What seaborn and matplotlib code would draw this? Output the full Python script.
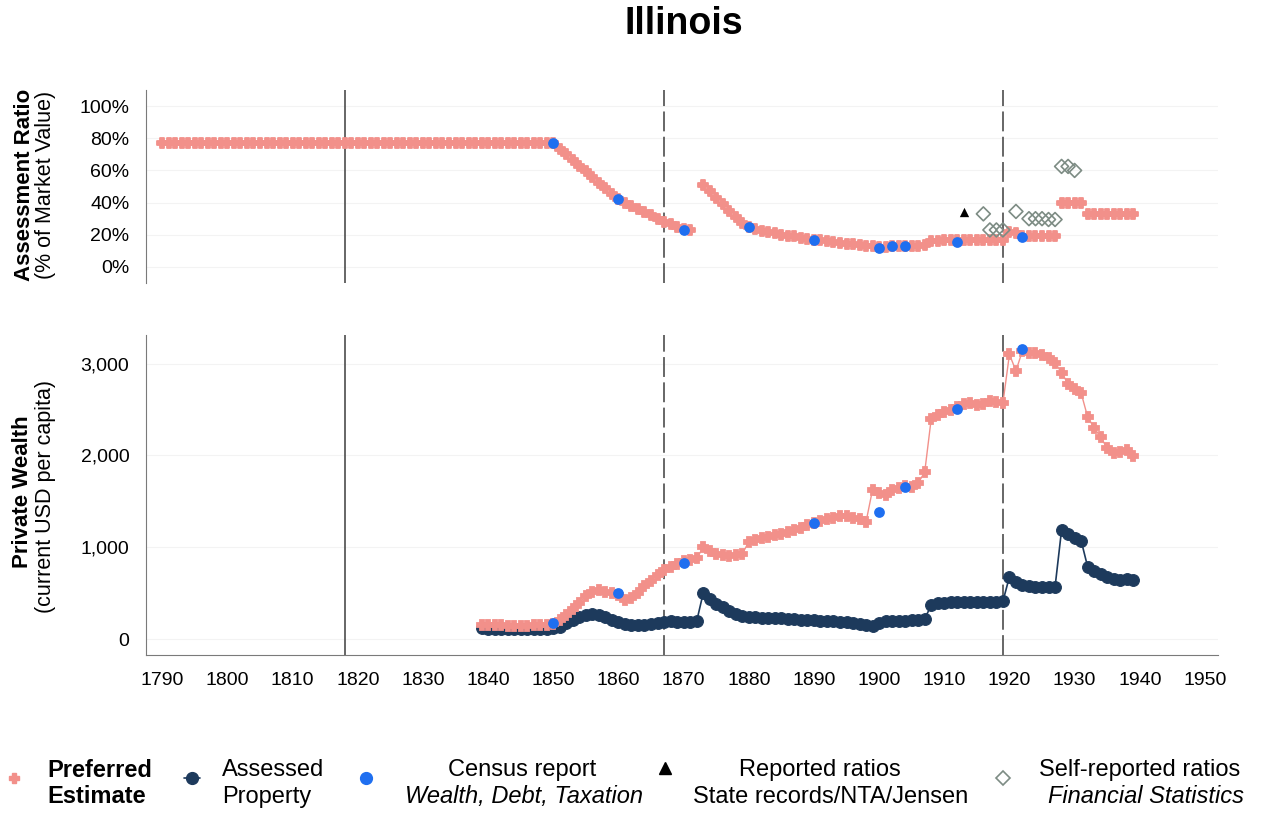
import matplotlib
matplotlib.use('Agg')
import matplotlib.pyplot as plt
from matplotlib.lines import Line2D
from matplotlib.ticker import FuncFormatter
import pandas as pd
import seaborn as sns

# ---- data ----
# assessment ratio (% of market value), preferred estimate, before the 1872 gap
ratio_years_a = list(range(1790, 1872))
ratio_pref_a = [77, 77, 77, 77, 77, 77, 77, 77, 77, 77,
                77, 77, 77, 77, 77, 77, 77, 77, 77, 77,
                77, 77, 77, 77, 77, 77, 77, 77, 77, 77,
                77, 77, 77, 77, 77, 77, 77, 77, 77, 77,
                77, 77, 77, 77, 77, 77, 77, 77, 77, 77,
                77, 77, 77, 77, 77, 77, 77, 77, 77, 77,
                77,                                          # 1850
                73.5, 70, 66.5, 63, 59.5, 56, 52.5, 49, 45.5, 42,  # 1851-1860
                40, 38, 36, 34, 32, 30, 28, 26.5, 25, 23.5,        # 1861-1870
                23]                                          # 1871
# after the gap
ratio_years_b = list(range(1873, 1940))
ratio_pref_b = [51, 47, 43, 39, 35, 31, 27.5,                       # 1873-1879
                25, 23.5, 22.5, 21.5, 21, 20, 19.5, 19, 18, 17.5,   # 1880-1889
                17, 16.5, 16, 15.5, 15, 14.5, 14, 13.5, 13, 13,     # 1890-1899
                12.5, 12.5, 13, 13, 13, 13, 13, 13.5, 16, 16,       # 1900-1909
                16.5, 16.5, 16.5, 16.5, 16.5, 16.5, 16.5, 16.5, 17, 17,  # 1910-1919
                21.5, 21, 19.5, 19.5, 19.5, 19.5, 19.5, 19.5, 40, 40,    # 1920-1929
                40, 40, 33, 33, 33, 33, 33, 33, 33, 33]             # 1930-1939

census_years = [1850, 1860, 1870, 1880, 1890, 1900, 1902, 1904, 1912, 1922]
census_ratio = [77, 42, 23, 25, 16.5, 12, 13, 13, 15.5, 18.5]

reported_years = [1913]
reported_ratio = [34]

self_years = [1916, 1917, 1918, 1919, 1921, 1923, 1924, 1925, 1926, 1927, 1928, 1929, 1930]
self_ratio = [33, 23, 23, 23, 34.5, 30, 30, 30, 29.5, 29.5, 62.5, 62.5, 60]

# private wealth, current USD per capita
wealth_years = list(range(1839, 1940))
wealth_pref = [160, 158, 155, 152, 150, 150, 150, 150, 152, 155, 158,   # 1839-1849
               165, 210, 270, 330, 400, 470, 520, 540, 520, 500,        # 1850-1859
               480, 430, 450, 510, 580, 640, 700, 750, 790, 820,        # 1860-1869
               850, 860, 880, 1000, 960, 930, 915, 910, 915, 930,       # 1870-1879
               1060, 1080, 1100, 1115, 1130, 1150, 1170, 1190, 1210, 1240,  # 1880-1889
               1270, 1290, 1310, 1325, 1340, 1340, 1325, 1310, 1280, 1630,  # 1890-1899
               1590, 1570, 1620, 1650, 1670, 1660, 1700, 1820, 2400, 2440,  # 1900-1909
               2470, 2500, 2530, 2560, 2570, 2550, 2560, 2590, 2580, 2570,  # 1910-1919
               3100, 2920, 3140, 3120, 3110, 3090, 3060, 3010, 2900, 2780,  # 1920-1929
               2720, 2680, 2420, 2300, 2200, 2080, 2030, 2040, 2060, 1990]  # 1930-1939
wealth_assessed = [120, 115, 112, 110, 110, 110, 110, 110, 112, 115, 118,  # 1839-1849
                   120, 140, 175, 210, 240, 260, 275, 270, 240, 210,      # 1850-1859
                   185, 165, 155, 155, 160, 170, 180, 190, 195, 190,      # 1860-1869
                   190, 190, 195, 500, 440, 390, 350, 310, 280, 255,      # 1870-1879
                   245, 240, 238, 235, 232, 228, 224, 220, 215, 212,      # 1880-1889
                   210, 205, 200, 195, 190, 185, 175, 170, 160, 150,      # 1890-1899
                   175, 195, 200, 202, 205, 208, 212, 225, 370, 395,      # 1900-1909
                   400, 402, 405, 405, 408, 410, 410, 410, 412, 415,      # 1910-1919
                   680, 620, 590, 580, 575, 575, 575, 570, 1190, 1150,    # 1920-1929
                   1100, 1075, 790, 740, 710, 680, 660, 645, 660, 645]    # 1930-1939
census_wealth_years = [1850, 1860, 1870, 1890, 1900, 1904, 1912, 1922]
census_wealth = [174, 500, 830, 1268, 1387, 1659, 2503, 3155]

statehood_year = [1818]
dashed_years = [1867, 1919]

# ---- style ----
sns.set_style('white')
plt.rcParams['font.family'] = ['Liberation Sans', 'DejaVu Sans']
plt.rcParams['text.color'] = 'black'

PINK = '#f2908a'
NAVY = '#1d3a5c'
BLUE = '#1f6ff0'
GREY_D = '#7d8c84'
VLINE = '#5a5a5a'
SPINE = '#7a7a7a'

top_a = pd.DataFrame({'year': ratio_years_a, 'ratio': ratio_pref_a})
top_b = pd.DataFrame({'year': ratio_years_b, 'ratio': ratio_pref_b})
wealth = pd.DataFrame({'year': wealth_years, 'pref': wealth_pref, 'assessed': wealth_assessed})

fig = plt.figure(figsize=(12.67, 8.14), dpi=100)
ax_top = fig.add_axes([0.1152, 0.6523, 0.8461, 0.2371])
ax_bot = fig.add_axes([0.1152, 0.1953, 0.8461, 0.3931])

# vertical reference lines
for ax in (ax_top, ax_bot):
    for yr in statehood_year:
        ax.axvline(yr, color=VLINE, lw=1.3, zorder=1)
    for yr in dashed_years:
        ax.axvline(yr, color=VLINE, lw=1.3, dashes=(11, 3), zorder=1)

# top panel: assessment ratio (markers only, they merge into a band)
for d in (top_a, top_b):
    sns.scatterplot(data=d, x='year', y='ratio', ax=ax_top, marker='P', s=58,
                    color=PINK, edgecolor=PINK, linewidth=1.3, zorder=3)
sns.scatterplot(x=census_years, y=census_ratio, ax=ax_top, color=BLUE, s=60,
                edgecolor=BLUE, linewidth=0, zorder=5)
sns.scatterplot(x=reported_years, y=reported_ratio, ax=ax_top, marker='^', color='black',
                s=45, edgecolor='black', linewidth=0, zorder=5)
sns.scatterplot(x=self_years, y=self_ratio, ax=ax_top, marker='D', s=50,
                facecolor='none', edgecolor=GREY_D, linewidth=1.2, zorder=6)

# bottom panel: private wealth
sns.lineplot(data=wealth, x='year', y='assessed', ax=ax_bot, color=NAVY, lw=1.2,
             marker='o', markersize=8.5, markeredgecolor=NAVY, zorder=3)
sns.lineplot(data=wealth, x='year', y='pref', ax=ax_bot, color=PINK, lw=1.0,
             marker='P', markersize=7.5, markeredgewidth=1.3, markeredgecolor=PINK, zorder=4)
sns.scatterplot(x=census_wealth_years, y=census_wealth, ax=ax_bot, color=BLUE, s=60,
                edgecolor=BLUE, linewidth=0, zorder=5)

# axes cosmetics
for ax in (ax_top, ax_bot):
    ax.set_xlim(1787.5, 1952)
    ax.set_xlabel('')
    ax.set_ylabel('')
    for s in ('top', 'right'):
        ax.spines[s].set_visible(False)
    ax.spines['left'].set_color(SPINE)
    ax.spines['bottom'].set_color(SPINE)
    ax.tick_params(axis='both', direction='out', length=6, width=1, color=SPINE,
                   labelsize=14, pad=6, labelcolor='black')
    ax.grid(axis='y', color='#f3f3f3', lw=0.8)
    ax.set_axisbelow(True)

ax_top.set_ylim(-10, 110)
ax_top.set_yticks([0, 20, 40, 60, 80, 100])
ax_top.yaxis.set_major_formatter(FuncFormatter(lambda v, p: f'{v:.0f}%'))
ax_top.spines['bottom'].set_visible(False)
ax_top.set_xticks([])

ax_bot.set_ylim(-170, 3310)
ax_bot.set_yticks([0, 1000, 2000, 3000])
ax_bot.yaxis.set_major_formatter(FuncFormatter(lambda v, p: f'{v:,.0f}'))
ax_bot.set_xticks(list(range(1790, 1951, 10)))

# titles / axis titles
fig.text(0.5395, 0.970, 'Illinois', fontsize=27, fontweight='bold', ha='center', va='center')
fig.text(0.0190, 0.7727, 'Assessment Ratio', rotation=90, fontsize=16, fontweight='bold',
         ha='center', va='center')
fig.text(0.0363, 0.7727, '(% of Market Value)', rotation=90, fontsize=15.5,
         ha='center', va='center')
fig.text(0.0174, 0.396, 'Private Wealth', rotation=90, fontsize=16, fontweight='bold',
         ha='center', va='center')
fig.text(0.0363, 0.390, '(current USD per capita)', rotation=90, fontsize=15.5,
         ha='center', va='center')

# legend (manual, mixed bold / italic lines)
y1, y2, ym = 0.054, 0.0209, 0.0442
fs = 17
fig.add_artist(Line2D([0.011], [ym], transform=fig.transFigure, color=PINK,
                      marker='P', markersize=7, markeredgewidth=1, markeredgecolor=PINK, lw=0))
fig.text(0.0371, y1, 'Preferred', fontsize=fs, fontweight='bold', ha='left', va='center')
fig.text(0.0371, y2, 'Estimate', fontsize=fs, fontweight='bold', ha='left', va='center')

fig.add_artist(Line2D([0.1455, 0.1575], [ym, ym], transform=fig.transFigure, color=NAVY, lw=1.2))
fig.add_artist(Line2D([0.1515], [ym], transform=fig.transFigure, color=NAVY,
                      marker='o', markersize=8.5, lw=0))
fig.text(0.1752, y1, 'Assessed', fontsize=fs, ha='left', va='center')
fig.text(0.1752, y2, 'Property', fontsize=fs, ha='left', va='center')

fig.add_artist(Line2D([0.2889], [ym], transform=fig.transFigure, color=BLUE,
                      marker='o', markersize=8.5, lw=0))
fig.text(0.412, y1, 'Census report', fontsize=fs, ha='center', va='center')
fig.text(0.4136, y2, 'Wealth, Debt, Taxation', fontsize=fs, style='italic', ha='center', va='center')

fig.add_artist(Line2D([0.5249], [0.0565], transform=fig.transFigure, color='black',
                      marker='^', markersize=8, lw=0))
fig.text(0.6472, y1, 'Reported ratios', fontsize=fs, ha='center', va='center')
fig.text(0.6559, y2, 'State records/NTA/Jensen', fontsize=fs, ha='center', va='center')

fig.add_artist(Line2D([0.7917], [ym], transform=fig.transFigure, color=GREY_D,
                      marker='D', markersize=7.5, markerfacecolor='white', markeredgewidth=1.2, lw=0))
fig.text(0.8998, y1, 'Self-reported ratios', fontsize=fs, ha='center', va='center')
fig.text(0.9045, y2, 'Financial Statistics', fontsize=fs, style='italic', ha='center', va='center')

fig.savefig('out.png', dpi=100)
